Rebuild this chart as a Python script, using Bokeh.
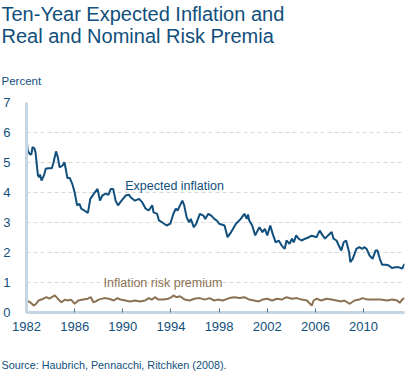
from bokeh.plotting import figure
from bokeh.models import Range1d, FixedTicker, Label, Title
from bokeh.embed import file_html
from bokeh.resources import INLINE

# ---------------- data ----------------
ei_years = [1982.0, 1982.1, 1982.25, 1982.4, 1982.5, 1982.65, 1982.75, 1982.95, 1983.05, 1983.12,
            1983.25, 1983.45, 1983.6, 1983.8, 1984.1, 1984.25, 1984.45, 1984.6, 1984.75, 1985.0,
            1985.15, 1985.25, 1985.4, 1985.6, 1985.8, 1986.0, 1986.2, 1986.4, 1986.55, 1986.8,
            1987.1, 1987.3, 1987.6, 1987.9, 1988.1, 1988.3, 1988.6, 1988.8, 1989.0, 1989.2,
            1989.4, 1989.6, 1989.8, 1990.0, 1990.25, 1990.5, 1990.65, 1990.8, 1991.0, 1991.35,
            1991.6, 1991.9, 1992.15, 1992.45, 1992.55, 1992.85, 1993.0, 1993.25, 1993.65, 1993.95,
            1994.2, 1994.4, 1994.55, 1994.75, 1994.95, 1995.1, 1995.3, 1995.5, 1995.65, 1995.9,
            1996.1, 1996.4, 1996.7, 1996.85, 1997.1, 1997.35, 1997.6, 1997.85, 1998.0, 1998.45,
            1998.7, 1999.0, 1999.4, 1999.8, 2000.1, 2000.3, 2000.4, 2000.5, 2000.75, 2001.0,
            2001.2, 2001.35, 2001.6, 2001.8, 2002.0, 2002.25, 2002.45, 2002.7, 2002.95, 2003.2,
            2003.45, 2003.6, 2003.85, 2004.05, 2004.2, 2004.4, 2004.6, 2004.85, 2005.15, 2005.4,
            2005.7, 2006.1, 2006.35, 2006.6, 2006.8, 2007.05, 2007.35, 2007.5, 2007.75, 2008.0,
            2008.15, 2008.35, 2008.55, 2008.8, 2008.9, 2009.1, 2009.4, 2009.65, 2009.9, 2010.05,
            2010.25, 2010.5, 2010.75, 2011.0, 2011.15, 2011.35, 2011.55, 2011.85, 2012.1, 2012.35,
            2012.6, 2012.9, 2013.2, 2013.4]
ei_values = [5.84, 5.40, 5.29, 5.26, 5.51, 5.47, 5.34, 4.57, 4.51, 4.60,
             4.40, 4.57, 4.79, 4.81, 4.81, 5.01, 5.37, 5.18, 4.84, 4.90,
             5.01, 4.81, 4.48, 4.48, 4.29, 4.01, 3.57, 3.62, 3.46, 3.40,
             3.32, 3.79, 3.96, 4.12, 3.73, 3.90, 3.96, 3.92, 4.12, 4.12,
             3.73, 3.57, 3.68, 3.78, 3.90, 3.93, 3.84, 3.79, 3.73, 3.79,
             3.68, 3.46, 3.40, 3.57, 3.34, 3.29, 3.07, 3.01, 2.90, 2.96,
             3.29, 3.46, 3.40, 3.57, 3.73, 3.57, 3.18, 3.01, 3.12, 2.84,
             2.96, 3.29, 3.23, 3.12, 3.29, 3.23, 3.12, 3.05, 2.96, 2.90,
             2.51, 2.68, 2.96, 3.12, 3.29, 3.12, 3.27, 3.07, 2.90, 2.57,
             2.73, 2.84, 2.68, 2.79, 2.57, 2.90, 2.62, 2.34, 2.40, 2.23,
             2.12, 2.40, 2.29, 2.46, 2.34, 2.57, 2.46, 2.40, 2.46, 2.50,
             2.56, 2.51, 2.73, 2.57, 2.46, 2.57, 2.68, 2.46, 2.40, 2.18,
             2.07, 2.34, 2.40, 2.01, 1.68, 1.79, 2.12, 2.18, 2.12, 2.18,
             2.12, 1.90, 1.79, 2.07, 2.07, 1.79, 1.59, 1.59, 1.57, 1.48,
             1.51, 1.51, 1.46, 1.62]

rp_years = [1982.0, 1982.3, 1982.6, 1982.8, 1983.0, 1983.4, 1983.65, 1983.9, 1984.35, 1984.6,
            1984.9, 1985.2, 1985.45, 1985.7, 1986.0, 1986.3, 1986.7, 1987.1, 1987.35, 1987.55,
            1987.75, 1988.0, 1988.45, 1988.85, 1989.25, 1989.55, 1989.8, 1990.2, 1990.6, 1991.0,
            1991.45, 1991.85, 1992.15, 1992.4, 1992.7, 1992.95, 1993.35, 1993.8, 1994.05, 1994.2,
            1994.45, 1994.75, 1995.15, 1995.55, 1995.95, 1996.4, 1996.8, 1997.2, 1997.6, 1997.9,
            1998.3, 1998.85, 1999.25, 1999.7, 2000.1, 2000.5, 2000.9, 2001.3, 2001.6, 2002.0,
            2002.4, 2002.8, 2003.2, 2003.6, 2004.05, 2004.45, 2004.85, 2005.3, 2005.55, 2005.7,
            2005.85, 2006.1, 2006.5, 2006.9, 2007.35, 2007.75, 2008.15, 2008.4, 2008.85, 2009.25,
            2009.65, 2009.9, 2010.35, 2010.85, 2011.4, 2011.95, 2012.4, 2012.8, 2013.0, 2013.2,
            2013.4]
rp_values = [0.40, 0.34, 0.23, 0.29, 0.40, 0.46, 0.51, 0.46, 0.57, 0.46,
             0.34, 0.43, 0.40, 0.43, 0.29, 0.40, 0.43, 0.46, 0.51, 0.34,
             0.37, 0.43, 0.48, 0.46, 0.40, 0.48, 0.43, 0.40, 0.37, 0.40,
             0.37, 0.40, 0.48, 0.43, 0.51, 0.43, 0.43, 0.46, 0.51, 0.57,
             0.51, 0.54, 0.43, 0.40, 0.46, 0.48, 0.43, 0.48, 0.40, 0.43,
             0.40, 0.48, 0.51, 0.48, 0.51, 0.43, 0.40, 0.37, 0.43, 0.46,
             0.40, 0.46, 0.43, 0.51, 0.46, 0.48, 0.43, 0.40, 0.29, 0.23,
             0.40, 0.46, 0.40, 0.46, 0.43, 0.40, 0.37, 0.40, 0.29, 0.40,
             0.43, 0.48, 0.43, 0.43, 0.43, 0.40, 0.43, 0.40, 0.32, 0.43,
             0.48]

x_ticks = [1982, 1986, 1990, 1994, 1998, 2002, 2006, 2010]
y_ticks = [0, 1, 2, 3, 4, 5, 6, 7]

title_lines = ["Ten-Year Expected Inflation and", "Real and Nominal Risk Premia"]
unit_label = "Percent"
source_text = "Source: Haubrich, Pennacchi, Ritchken (2008)."
ei_label = "Expected inflation"
rp_label = "Inflation risk premium"

# ---------------- styles ----------------
FONT = "Liberation Sans"
DARK = "#114f7c"
BROWN = "#8c7254"
AXIS = "#c5d5e1"

p = figure(width=408, height=374, output_backend="svg", toolbar_location=None,
           x_range=Range1d(1982, 2013.4), y_range=Range1d(0, 7),
           min_border_left=21, min_border_right=4, min_border_top=102, min_border_bottom=62)
p.outline_line_color = None
p.background_fill_color = "white"
p.border_fill_color = "white"

p.xgrid.grid_line_color = None
p.ygrid.grid_line_color = "#d9d9d9"
p.ygrid.grid_line_dash = "4 3"
p.ygrid.grid_line_width = 1

for ax in (p.xaxis[0], p.yaxis[0]):
    ax.axis_line_color = AXIS
    ax.axis_line_width = 3
    ax.minor_tick_line_color = None
    ax.major_label_text_font = FONT
    ax.major_label_text_font_size = "13px"
    ax.major_label_text_color = DARK

p.xaxis.ticker = FixedTicker(ticks=x_ticks)
p.xaxis.major_tick_in = 4
p.xaxis.major_tick_out = 0
p.xaxis.major_tick_line_color = "#4a7698"
p.xaxis.major_label_standoff = 9

p.yaxis.ticker = FixedTicker(ticks=y_ticks)
p.yaxis.major_tick_line_color = None
p.yaxis.major_label_standoff = 10

p.line(ei_years, ei_values, line_color=DARK, line_width=2)
p.line(rp_years, rp_values, line_color=BROWN, line_width=2)

p.add_layout(Label(x=1990.2, y=4.23, text=ei_label, text_font=FONT, text_font_size="12.5px",
                   text_color=DARK, text_baseline="alphabetic"))
p.add_layout(Label(x=1988.4, y=0.97, text=rp_label, text_font=FONT, text_font_size="12.5px",
                   text_color=BROWN, text_baseline="alphabetic"))

# titles in side panels (first added sits closest to the frame)
def make_title(text, size, standoff):
    return Title(text=text, align="left", offset=-25, standoff=standoff, text_font=FONT,
                 text_font_size=size, text_color=DARK, text_font_style="normal",
                 text_line_height=1.0)

def spacer(standoff):
    return Title(text=" ", standoff=standoff, text_font_size="1px")

p.add_layout(make_title(unit_label, "11.5px", 31), "above")
p.add_layout(spacer(8), "above")
p.add_layout(make_title("\n".join(title_lines), "20px", 0), "above")

p.add_layout(spacer(20), "below")
p.add_layout(make_title(source_text, "10.8px", 0), "below")

open("out.html", "w").write(file_html(p, INLINE))
